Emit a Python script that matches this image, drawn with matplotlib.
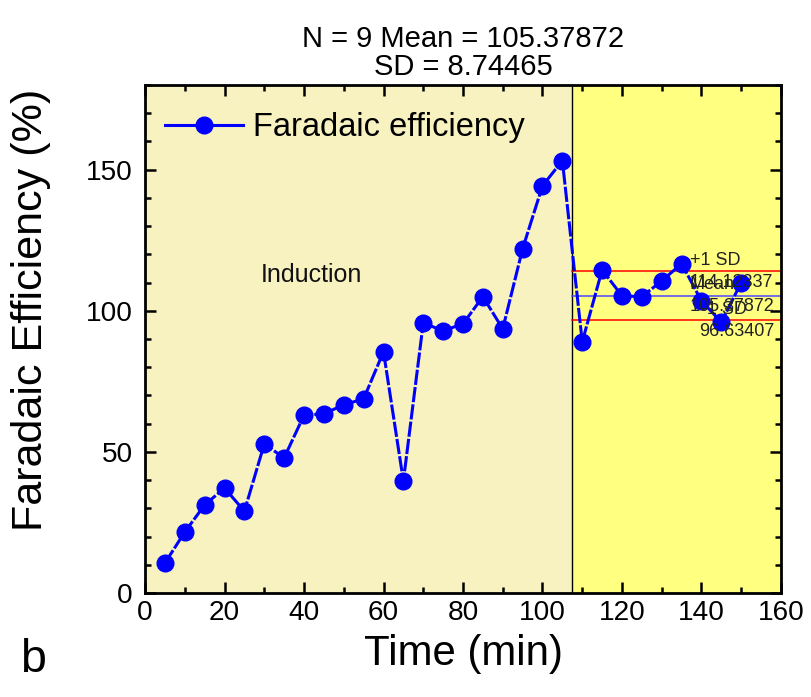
import matplotlib
matplotlib.use("Agg")
import matplotlib.pyplot as plt
from matplotlib import font_manager
from matplotlib.ticker import MultipleLocator
from matplotlib.lines import Line2D

# ---- data ----
time_min = [5, 10, 15, 20, 25, 30, 35, 40, 45, 50, 55, 60, 65, 70, 75,
            80, 85, 90, 95, 100, 105, 110, 115, 120, 125, 130, 135, 140, 145, 150]
faradaic_eff = [10.6, 21.6, 31.2, 37.2, 29.0, 52.8, 47.9, 63.0, 63.5, 66.7,
                68.8, 85.5, 39.7, 95.7, 92.9, 95.4, 105.0, 93.6, 122.0, 144.3,
                153.2, 89.0, 114.5, 105.3, 105.0, 110.6, 116.7, 103.5, 96.0, 110.0]
induction_end = 107.5
stat_mean = 105.37872
stat_sd = 8.74465
stat_n = 9
plus_sd = 114.12337
minus_sd = 96.63407
x_ticks = [0, 20, 40, 60, 80, 100, 120, 140, 160]
y_ticks = [0, 50, 100, 150]

# ---- fonts ----
names = {f.name for f in font_manager.fontManager.ttflist}
if "Liberation Sans Narrow" in names:
    NARROW = ["Liberation Sans Narrow", "Liberation Sans"]
    k = 1.0
else:
    NARROW = ["Liberation Sans", "DejaVu Sans"]
    k = 0.84
REG = ["Liberation Sans", "DejaVu Sans"]
plt.rcParams['font.family'] = NARROW

fig = plt.figure(figsize=(8.12, 6.97), dpi=100)
ax = fig.add_axes([0.1786, 0.1492, 0.9618 - 0.1786, 0.878 - 0.1492])

ax.set_xlim(0, 160)
ax.set_ylim(0, 180)
ax.axvspan(0, induction_end, color='#f7f2c0', zorder=0, lw=0)
ax.axvspan(induction_end, 160, color='#ffff80', zorder=0, lw=0)
ax.axvline(induction_end, color='black', lw=1, zorder=1)

# stat lines over the stable region
ax.plot([induction_end, 160], [plus_sd, plus_sd], color='red', lw=1.1, zorder=2)
ax.plot([induction_end, 160], [minus_sd, minus_sd], color='red', lw=1.1, zorder=2)
ax.plot([induction_end, 160], [stat_mean, stat_mean], color='#4a4aff', lw=1.1, zorder=2)

ax.plot(time_min, faradaic_eff, color='#0000ff', lw=2.2, linestyle=(0, (5, 0.7)),
        marker='o', markersize=12, markerfacecolor='#0000ff', markeredgecolor='#0000ff',
        zorder=3)

afs = 13
ax.text(137, plus_sd + 0.8, '+1 SD', fontsize=afs, family=REG, ha='left', va='bottom', color='#222222', zorder=4)
ax.text(137, plus_sd - 1.0, '114.12337', fontsize=afs, family=REG, ha='left', va='top', color='#222222', zorder=4, clip_on=True)
ax.text(137, stat_mean + 0.8, 'Mean', fontsize=afs, family=REG, ha='left', va='bottom', color='#222222', zorder=4)
ax.text(137, stat_mean - 1.0, '105.37872', fontsize=afs, family=REG, ha='left', va='top', color='#222222', zorder=4, clip_on=True)
ax.text(140, minus_sd + 0.8, '-1 SD', fontsize=afs, family=REG, ha='left', va='bottom', color='#222222', zorder=4)
ax.text(139.5, minus_sd - 1.0, '96.63407', fontsize=afs, family=REG, ha='left', va='top', color='#222222', zorder=4, clip_on=True)

ax.text(41.8, 112.8, 'Induction', fontsize=18, family=REG, ha='center', va='center', color='#111111')

ax.set_xticks(x_ticks)
ax.set_yticks(y_ticks)
ax.xaxis.set_minor_locator(MultipleLocator(10))
ax.yaxis.set_minor_locator(MultipleLocator(10))
ax.tick_params(which='both', direction='in', top=True, right=True, width=1.8, colors='black')
ax.tick_params(which='major', length=8, labelsize=24 * k)
ax.tick_params(axis='y', which='major', pad=9)
ax.tick_params(axis='x', which='major', pad=5)
ax.tick_params(which='minor', length=4)
for s in ax.spines.values():
    s.set_linewidth(2)

ax.set_xlabel('Time (min)', fontsize=36 * k, labelpad=6)
ax.set_ylabel('Faradaic Efficiency (%)', fontsize=37 * k)
ax.yaxis.set_label_coords(-0.148, 0.557)
ax.set_title(f'N = {stat_n} Mean = {stat_mean:.5f}\nSD = {stat_sd:.5f}', fontsize=25 * k,
             pad=7, linespacing=1.0)

handle = Line2D([], [], color='#0000ff', lw=2.2, marker='o', markersize=12,
                markerfacecolor='#0000ff', markeredgecolor='#0000ff')
ax.legend([handle], ['Faradaic efficiency'], loc='upper left', frameon=False,
          fontsize=28 * k, handlelength=2.4, handletextpad=0.3, borderaxespad=0.2,
          bbox_to_anchor=(0.0, 0.985))

fig.text(0.025, 0.022, 'b', fontsize=40 * k, ha='left', va='bottom')

fig.savefig('out.png', dpi=100)
